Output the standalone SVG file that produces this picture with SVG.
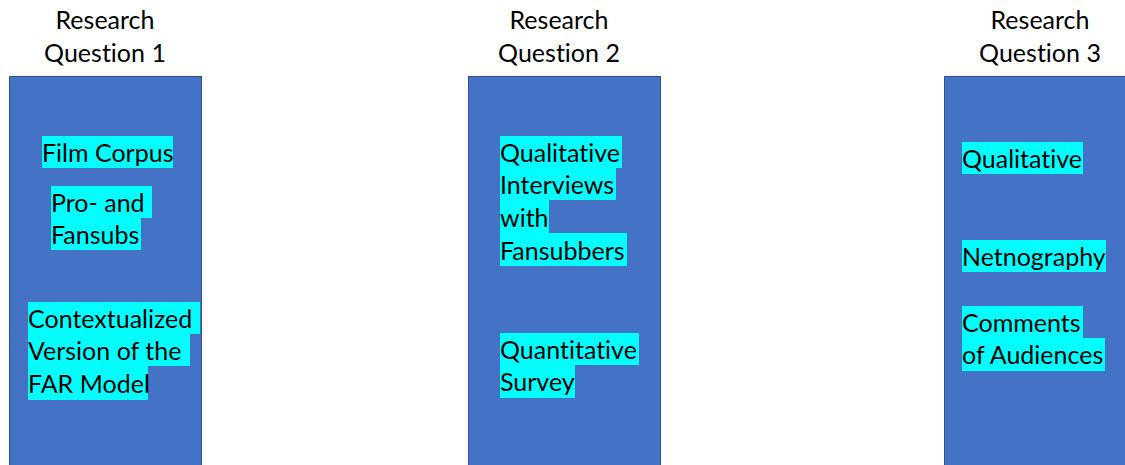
<svg xmlns="http://www.w3.org/2000/svg" width="1125" height="465" viewBox="0 0 1125 465">
<style>
.col{fill:#4472C4;stroke:#2F528F;stroke-width:1}
.hl{fill:#00FFFF}
.t{font-family:Lato,"Open Sans","Liberation Sans",sans-serif;font-size:25px;fill:#000;font-variant-ligatures:none}
.h{font-family:Lato,"Open Sans","Liberation Sans",sans-serif;font-size:25px;fill:#000;text-anchor:middle;font-variant-ligatures:none}
</style>
<g id="rq1">
<text class="h" x="105" y="29">Research</text>
<text class="h" x="105" y="62">Question 1</text>
<rect class="col" x="9.5" y="76.5" width="192" height="395"/>
<rect class="hl" x="42" y="136" width="131" height="32"/>
<rect class="hl" x="51" y="186" width="101" height="32"/>
<rect class="hl" x="51" y="218" width="90" height="32"/>
<rect class="hl" x="28" y="302" width="172" height="32"/>
<rect class="hl" x="28" y="334" width="162" height="32"/>
<rect class="hl" x="28" y="366" width="120" height="34"/>
<text class="t" x="42" y="162">Film Corpus</text>
<text class="t" x="51" y="212">Pro- and</text>
<text class="t" x="51" y="244">Fansubs</text>
<text class="t" x="28" y="328">Contextualized</text>
<text class="t" x="28" y="360">Version of the</text>
<text class="t" x="28" y="393">FAR Model</text>
</g>
<g id="rq2">
<text class="h" x="559" y="29">Research</text>
<text class="h" x="559" y="62">Question 2</text>
<rect class="col" x="468.5" y="76.5" width="192" height="395"/>
<rect class="hl" x="500" y="136" width="122" height="32"/>
<rect class="hl" x="500" y="168" width="116" height="32"/>
<rect class="hl" x="500" y="200" width="49" height="33"/>
<rect class="hl" x="500" y="233" width="127" height="33"/>
<rect class="hl" x="500" y="333" width="139" height="32"/>
<rect class="hl" x="500" y="365" width="75" height="33"/>
<text class="t" x="500" y="162">Qualitative</text>
<text class="t" x="500" y="194">Interviews</text>
<text class="t" x="500" y="227">with</text>
<text class="t" x="500" y="260">Fansubbers</text>
<text class="t" x="500" y="359">Quantitative</text>
<text class="t" x="500" y="391">Survey</text>
</g>
<g id="rq3">
<text class="h" x="1040" y="29">Research</text>
<text class="h" x="1040" y="62">Question 3</text>
<rect class="col" x="944.5" y="76.5" width="192" height="395"/>
<rect class="hl" x="962" y="142" width="121" height="32"/>
<rect class="hl" x="962" y="240" width="144" height="32"/>
<rect class="hl" x="962" y="306" width="121" height="32"/>
<rect class="hl" x="962" y="338" width="143" height="33"/>
<text class="t" x="962" y="168">Qualitative</text>
<text class="t" x="962" y="266">Netnography</text>
<text class="t" x="962" y="332">Comments</text>
<text class="t" x="962" y="364">of Audiences</text>
</g>
<g id="connectors"/>
</svg>
